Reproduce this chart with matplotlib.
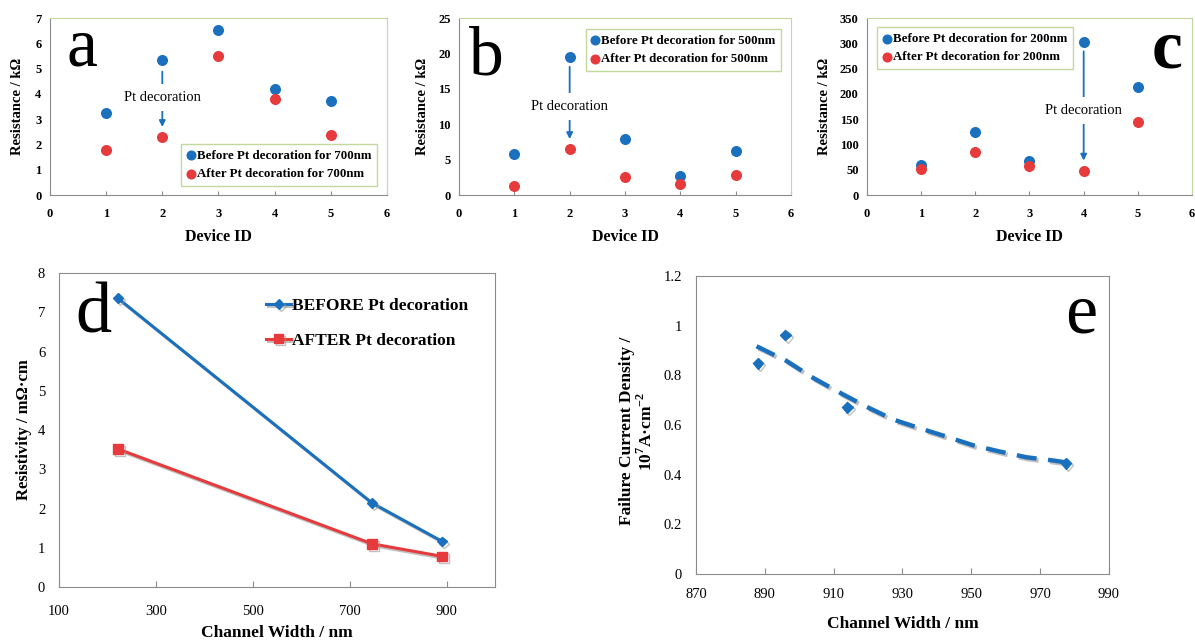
import matplotlib
matplotlib.use("Agg")
import matplotlib.pyplot as plt
import matplotlib.patheffects as pe

plt.rcParams['font.family'] = ['Liberation Serif', 'DejaVu Serif']
plt.rcParams['mathtext.fontset'] = 'custom'
plt.rcParams['mathtext.rm'] = 'Liberation Serif'
plt.rcParams['mathtext.bf'] = 'Liberation Serif:bold'

BLUE = '#1b70be'
RED = '#e63a3c'
GREEN = '#c4d89e'
GRAY = '#8c8c8c'

# panels a-c: resistance per device
device_id = [1, 2, 3, 4, 5]
before_700 = [3.26, 5.33, 6.54, 4.19, 3.73]
after_700 = [1.80, 2.28, 5.49, 3.78, 2.37]
before_500 = [5.8, 19.5, 7.95, 2.75, 6.15]
after_500 = [1.33, 6.44, 2.51, 1.56, 2.89]
before_200 = [60, 124, 68, 302, 213]
after_200 = [52, 86, 58, 48, 145]

# panel d: resistivity vs channel width
width_d = [221, 746, 891]
rho_before = [7.36, 2.14, 1.16]
rho_after = [3.52, 1.10, 0.78]

# panel e: failure current density vs channel width
width_e = [888, 896, 914, 977.5]
jfail = [0.848, 0.962, 0.671, 0.446]
trend_x = [887.6, 896.3, 904, 911.8, 919.6, 927.3, 935, 942.8, 950.6, 958.3, 966, 973.8, 977.7]
trend_y = [0.917, 0.858, 0.79, 0.73, 0.673, 0.622, 0.587, 0.553, 0.518, 0.493, 0.47, 0.457, 0.449]

fig = plt.figure(figsize=(11.95, 6.43), dpi=100)


def top_panel(rect, before, after, ymax, ystep, nm, letter, letter_xy, arrow, leg_loc, leg_anchor, ylab_x):
    ax = fig.add_axes(rect)
    ax.scatter(device_id, before, s=48, color=BLUE, zorder=3, label='Before Pt decoration for %dnm' % nm)
    ax.scatter(device_id, after, s=48, color=RED, zorder=3, label='After Pt decoration for %dnm' % nm)
    ax.set_xlim(0, 6)
    ax.set_ylim(0, ymax)
    ax.set_xticks(range(7))
    ax.set_yticks([ystep * i for i in range(int(round(ymax / ystep)) + 1)])
    ax.tick_params(axis='x', direction='in', length=3, color=GRAY, pad=9, labelsize=9)
    ax.tick_params(axis='y', length=0, pad=6, labelsize=9)
    for lab in ax.get_xticklabels() + ax.get_yticklabels():
        lab.set_fontweight('bold')
    ax.spines['left'].set_color(GRAY)
    ax.spines['bottom'].set_color(GRAY)
    ax.spines['top'].set_color(GREEN)
    ax.spines['right'].set_color(GREEN)
    ax.set_ylabel('Resistance / kΩ', fontsize=10.5, fontweight='bold')
    ax.yaxis.set_label_coords(ylab_x, 0.5)
    ax.set_xlabel('Device ID', fontsize=11.5, fontweight='bold')
    ax.xaxis.set_label_coords(0.5, -0.19)
    ax.xaxis.label.set_va('top')
    ax.text(letter_xy[0], letter_xy[1], letter, transform=ax.transAxes, fontsize=50,
            ha='left', va='baseline', fontweight='bold' if letter == 'c' else 'normal')
    x, y0, y1, ytxt = arrow
    ax.annotate('', xy=(x, y1), xytext=(x, y0),
                arrowprops=dict(arrowstyle='-|>', color=BLUE, lw=1.3, mutation_scale=9, shrinkA=0, shrinkB=0))
    ax.text(x, ytxt, 'Pt decoration', ha='center', va='center', fontsize=10.5, zorder=4,
            bbox=dict(facecolor='white', edgecolor='none', pad=5))
    leg = ax.legend(loc=leg_loc, bbox_to_anchor=leg_anchor, prop={'weight': 'bold', 'size': 9.3},
                    handlelength=0.6, handletextpad=0.15, borderpad=0.45, labelspacing=0.5,
                    fancybox=False, edgecolor=GREEN, framealpha=1, markerscale=0.9)
    leg.get_frame().set_linewidth(1.0)
    return ax


top_panel([0.0418, 0.6967, 0.282, 0.2753], before_700, after_700, 7, 1, 700, 'a', (0.05, 0.73),
          (2, 4.88, 2.69, 3.86), 'lower right', (0.99, 0.015), -0.077)
top_panel([0.3841, 0.6967, 0.2778, 0.2753], before_500, after_500, 25, 5, 500, 'b', (0.03, 0.68),
          (2, 18.1, 7.9, 12.45), 'upper right', (0.99, 0.975), -0.09)
top_panel([0.7255, 0.6967, 0.272, 0.2753], before_200, after_200, 350, 50, 200, 'c', (0.875, 0.72),
          (4, 284, 68, 167), 'upper left', (0.012, 0.985), -0.11)

shadow = [pe.SimpleLineShadow(offset=(1.5, -1.5), shadow_color='#999999', alpha=0.6), pe.Normal()]

# panel d
axd = fig.add_axes([0.0494, 0.0871, 0.3649, 0.4883])
axd.plot(width_d, rho_before, color=BLUE, lw=2.2, marker='D', ms=5, label='BEFORE Pt decoration', path_effects=shadow)
axd.plot(width_d, rho_after, color=RED, lw=2.2, marker='s', ms=7, label='AFTER Pt decoration', path_effects=shadow)
axd.set_xlim(100, 1000)
axd.set_ylim(0, 8)
axd.set_xticks([100, 300, 500, 700, 900])
axd.set_yticks(range(9))
axd.tick_params(axis='x', direction='in', length=4, color=GRAY, pad=13, labelsize=10.5)
axd.tick_params(axis='y', length=0, pad=10, labelsize=10.5)
for s in axd.spines.values():
    s.set_color(GRAY)
axd.set_ylabel('Resistivity / mΩ·cm', fontsize=12, fontweight='bold')
axd.yaxis.set_label_coords(-0.062, 0.5)
axd.set_xlabel('Channel Width / nm', fontsize=12.5, fontweight='bold')
axd.xaxis.set_label_coords(0.5, -0.122)
axd.xaxis.label.set_va('top')
axd.text(0.037, 0.81, 'd', transform=axd.transAxes, fontsize=52, va='baseline')
axd.legend(loc='upper right', bbox_to_anchor=(0.975, 0.97), frameon=False,
           prop={'weight': 'bold', 'size': 12.5}, handlelength=1.4, handletextpad=0.1, labelspacing=1.05)

# panel e
axe = fig.add_axes([0.5824, 0.1073, 0.3456, 0.4635])
axe.plot(trend_x, trend_y, color=BLUE, lw=3.2, ls=(0, (4.5, 2.6)), path_effects=shadow)
axe.plot(width_e, jfail, ls='none', marker='D', ms=5.5, color=BLUE, path_effects=shadow)
axe.set_xlim(870, 990)
axe.set_ylim(0, 1.2)
axe.set_xticks(range(870, 991, 20))
axe.set_yticks([0, 0.2, 0.4, 0.6, 0.8, 1.0, 1.2])
axe.set_yticklabels(['0', '0.2', '0.4', '0.6', '0.8', '1', '1.2'])
axe.tick_params(axis='x', direction='in', length=4, color=GRAY, pad=10, labelsize=10.5)
axe.tick_params(axis='y', length=0, pad=10, labelsize=10.5)
for s in axe.spines.values():
    s.set_color(GRAY)
axe.set_ylabel('Failure Current Density /\n10$^{\\mathbf{7}}$A·cm$^{\\mathbf{-2}}$', fontsize=12.5,
               fontweight='bold', linespacing=1.1)
axe.yaxis.set_label_coords(-0.097, 0.48)
axe.set_xlabel('Channel Width / nm', fontsize=12.5, fontweight='bold')
axe.xaxis.set_label_coords(0.5, -0.14)
axe.xaxis.label.set_va('top')
axe.text(0.895, 0.81, 'e', transform=axe.transAxes, fontsize=52, va='baseline')

fig.savefig('out.png', dpi=100)
